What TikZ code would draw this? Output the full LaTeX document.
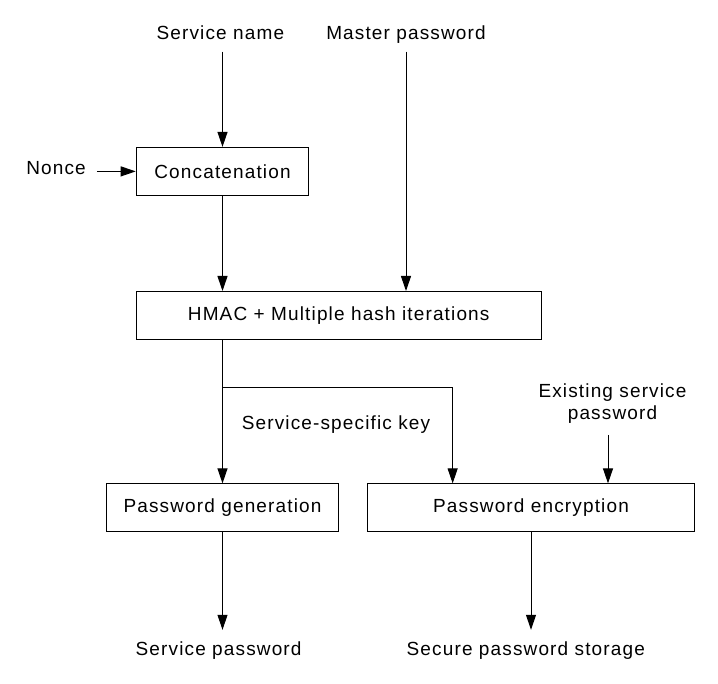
\documentclass[tikz,border=0pt]{standalone}
\usepackage{fontspec}
\setmainfont{Liberation Sans}[LetterSpace=6]
\usetikzlibrary{arrows.meta}

\tikzset{
  box/.style={draw, line width=1pt, minimum height=48pt, inner sep=0pt},
  lbl/.style={inner sep=0pt, text height=14pt, text depth=4pt},
  arr/.style={line width=1pt, -{Triangle[length=15pt,width=10pt]}}
}

\begin{document}
\begin{tikzpicture}[x=1pt, y=-1pt, font=\fontsize{19}{22.5}\selectfont]
	\useasboundingbox (0,0) rectangle (718,684);

	% Входы сверху
	\node[lbl] (sname) at (220.4,34.5) {Service name};
	\node[lbl] (mpass) at (406,34.5) {Master password};
	\node[lbl] (nonce) at (56,169.5) {Nonce};

	% Блоки
	\node[box, minimum width=172.6pt] (concat) at (222.5,171.4) {Concatenation};
	\node[box, minimum width=405pt] (hmac) at (338.7,315.5) {HMAC + Multiple hash iterations};
	\node[box, minimum width=231.5pt] (pgen) at (222.5,507.9) {Password generation};
	\node[box, minimum width=327.7pt] (penc) at (531,507.9) {Password encryption};

	% Подписи
	\node[lbl] (skey) at (336,425) {Service-specific key};
	\node[inner sep=0pt, align=center] (expw) at (612.5,403.5) {Existing service\\password};
	\node[lbl] (spw) at (218.6,650) {Service password};
	\node[lbl] (store) at (525.8,650) {Secure password storage};

	% Стрелки
	\draw[arr, shorten <=8pt] (concat.north |- sname.south) -- (concat.north);
	\draw[arr, shorten <=8pt] (mpass.south) -- (mpass.south |- hmac.north);
	\draw[arr, shorten <=11pt] (concat.west -| nonce.east) -- (concat.west);
	\draw[arr] (concat.south) -- (concat.south |- hmac.north);

	% Ветвление ключа
	\coordinate (split) at (222.5,388);
	\draw[arr] (hmac.south -| pgen.north) -- (pgen.north);
	\draw[arr] (split) -| ([xshift=86pt]penc.north west);
	\draw[arr, shorten <=11pt] ([xshift=-4.5pt]expw.south) -- ([xshift=-4.5pt]expw.south |- penc.north);

	% Выходы
	\draw[arr, shorten >=11pt] (pgen.south) -- (pgen.south |- spw.north);
	\draw[arr, shorten >=11pt] (penc.south) -- (penc.south |- store.north);
\end{tikzpicture}
\end{document}
